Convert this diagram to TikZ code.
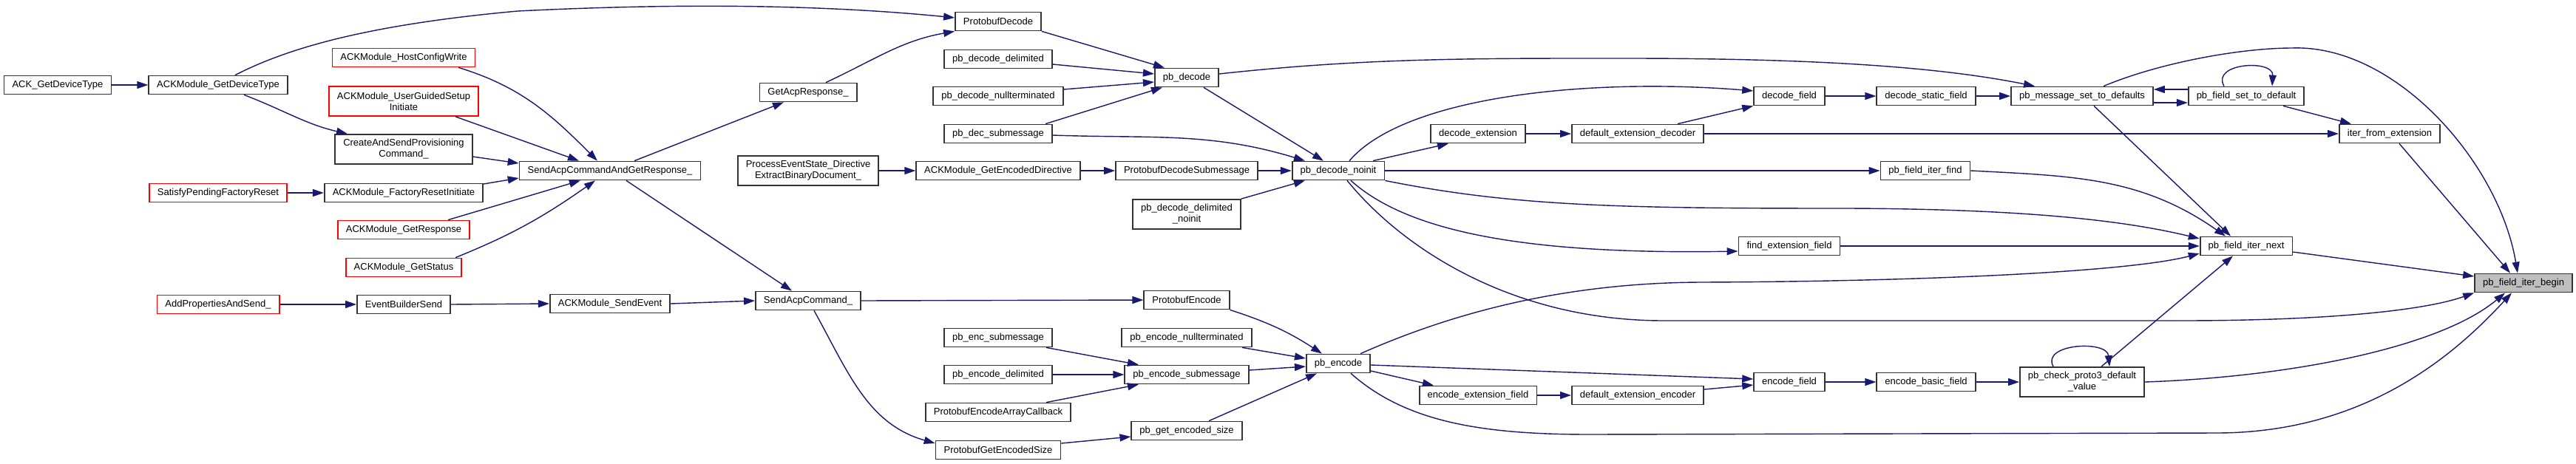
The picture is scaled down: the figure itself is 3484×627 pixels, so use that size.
\documentclass[tikz,border=0pt]{standalone}
\usepackage{fontspec}
\setmainfont{Liberation Sans}
\usetikzlibrary{arrows.meta}

\definecolor{callblue}{HTML}{191970}
\definecolor{boxgray}{HTML}{BFBFBF}

\tikzset{
  fn/.style={draw=black!80, line width=0.5pt, fill=white, inner xsep=0.11cm, inner ysep=0pt,
    minimum height=0.25cm, align=center, font=\fontsize{3.7}{4.27}\selectfont},
  fnred/.style={fn, draw=red},
  fnroot/.style={fn, fill=boxgray},
  tall/.style={minimum height=0.4cm},
  call/.style={draw=callblue, line width=0.4pt, -{Triangle[length=0.15cm,width=0.1cm]}},
}

\begin{document}
\begin{tikzpicture}[x=0.01cm, y=-0.01cm]

\useasboundingbox (0,0) rectangle (3484,627);

% callers on the left
\node[fn] (ackdev) at (78,115) {ACK\_GetDeviceType};
\node[fn] (ackmoddev) at (295,115) {ACKModule\_GetDeviceType};
\node[fnred] (satisfy) at (295,261) {SatisfyPendingFactoryReset};
\node[fnred] (addprop) at (295,412) {AddPropertiesAndSend\_};

\node[fnred] (hostcfg) at (546,78) {ACKModule\_HostConfigWrite};
\node[fnred,tall] (userguided) at (546,137) {ACKModule\_UserGuidedSetup\\Initiate};
\node[fn,tall] (createsend) at (546,202) {CreateAndSendProvisioning\\Command\_};
\node[fn] (factoryreset) at (546,261) {ACKModule\_FactoryResetInitiate};
\node[fnred] (getresp) at (546,311) {ACKModule\_GetResponse};
\node[fnred] (getstatus) at (546,362) {ACKModule\_GetStatus};
\node[fn] (eventsend) at (546,412) {EventBuilderSend};

\node[fn] (sendacpget) at (825,231) {SendAcpCommandAndGetResponse\_};
\node[fn] (sendevent) at (825,411) {ACKModule\_SendEvent};

\node[fn] (getacp) at (1093,125) {GetAcpResponse\_};
\node[fn,tall] (processevt) at (1093,231) {ProcessEventState\_Directive\\ExtractBinaryDocument\_};
\node[fn] (sendacp) at (1093,407) {SendAcpCommand\_};

% protobuf wrappers
\node[fn] (protodec) at (1350,29) {ProtobufDecode};
\node[fn] (decdelim) at (1350,80) {pb\_decode\_delimited};
\node[fn] (decnull) at (1350,130) {pb\_decode\_nullterminated};
\node[fn] (decsub) at (1350,181) {pb\_dec\_submessage};
\node[fn] (getencdir) at (1350,231) {ACKModule\_GetEncodedDirective};
\node[fn] (encsub) at (1350,457) {pb\_enc\_submessage};
\node[fn] (encdelim) at (1350,507) {pb\_encode\_delimited};
\node[fn] (encarray) at (1350,558) {ProtobufEncodeArrayCallback};
\node[fn] (getencsize) at (1350,609) {ProtobufGetEncodedSize};

\node[fn] (pbdecode) at (1605,105) {pb\_decode};
\node[fn] (protodecsub) at (1605,231) {ProtobufDecodeSubmessage};
\node[fn,tall] (decdelimnoinit) at (1605,290) {pb\_decode\_delimited\\\_noinit};
\node[fn] (protoenc) at (1605,406) {ProtobufEncode};
\node[fn] (encnull) at (1605,457) {pb\_encode\_nullterminated};
\node[fn] (encsubmsg) at (1605,507) {pb\_encode\_submessage};
\node[fn] (pbgetsize) at (1605,583) {pb\_get\_encoded\_size};

\node[fn] (decnoinit) at (1810,231) {pb\_decode\_noinit};
\node[fn] (pbencode) at (1810,492) {pb\_encode};

% field helpers
\node[fn] (decext) at (1999,181) {decode\_extension};
\node[fn] (encextfield) at (1999,535) {encode\_extension\_field};
\node[fn] (defextdec) at (2215,181) {default\_extension\_decoder};
\node[fn] (defextenc) at (2215,535) {default\_extension\_encoder};
\node[fn] (decfield) at (2420,130) {decode\_field};
\node[fn] (findext) at (2420,333) {find\_extension\_field};
\node[fn] (encfield) at (2420,517) {encode\_field};
\node[fn] (decstatic) at (2605,130) {decode\_static\_field};
\node[fn] (iterfind) at (2604,231) {pb\_field\_iter\_find};
\node[fn] (encbasic) at (2605,517) {encode\_basic\_field};
\node[fn] (msgdefaults) at (2816,130) {pb\_message\_set\_to\_defaults};
\node[fn,tall] (proto3) at (2816,517) {pb\_check\_proto3\_default\\\_value};
\node[fn] (setdefault) at (3038,130) {pb\_field\_set\_to\_default};
\node[fn] (iternext) at (3038,333) {pb\_field\_iter\_next};
\node[fn] (iterfromext) at (3232,181) {iter\_from\_extension};
\node[fnroot] (iterbegin) at (3413,383) {pb\_field\_iter\_begin};

% straight calls, east to west
\foreach \a/\b in {ackdev/ackmoddev, satisfy/factoryreset, addprop/eventsend,
    eventsend/sendevent, sendevent/sendacp, processevt/getencdir, sendacp/protoenc,
    getencdir/protodecsub, protodecsub/decnoinit, encdelim/encsubmsg, decnoinit/iterfind,
    findext/iternext, encextfield/defextenc, encfield/encbasic, encbasic/proto3,
    decext/defextdec, defextdec/iterfromext, decfield/decstatic, decstatic/msgdefaults}
  \draw[call] (\a.east) -- (\b.west);

% left part
\draw[call] ([xshift=0.23cm]ackmoddev.north) .. controls (380,70) and (480,35) .. (700,15)
  .. controls (900,5) and (1100,5) .. ([yshift=0.05cm]protodec.west);
\draw[call] ([xshift=0.35cm]ackmoddev.south) to[out=-21,in=167] ([xshift=-0.76cm]createsend.north);
\draw[call] ([xshift=0.74cm]hostcfg.south) to[out=-17,in=135] ([xshift=-0.17cm]sendacpget.north);
\draw[call] ([xshift=0.7cm]userguided.south) -- ([xshift=-0.42cm]sendacpget.north);
\draw[call] ([yshift=-0.1cm]createsend.east) -- ([yshift=0.1cm]sendacpget.west);
\draw[call] ([yshift=0.12cm]factoryreset.east) -- ([yshift=-0.1cm]sendacpget.west);
\draw[call] ([xshift=0.6cm]getresp.north) -- ([xshift=-0.4cm]sendacpget.south);
\draw[call] ([xshift=0.7cm]getstatus.north) to[out=22,in=-145] ([xshift=-0.2cm]sendacpget.south);
\draw[call] ([xshift=0.33cm]sendacpget.north) -- ([xshift=-0.33cm]getacp.south);
\draw[call] ([xshift=0.22cm]sendacpget.south) -- ([xshift=-0.22cm]sendacp.north);
\draw[call] ([xshift=0.24cm]getacp.north) to[out=25,in=-170] (protodec.south west);
\draw[call] ([xshift=0.08cm]sendacp.south) to[out=-61,in=164] ([yshift=0.09cm]getencsize.west);

% decode side
\draw[call] (protodec.south east) -- ([xshift=-0.3cm]pbdecode.north);
\draw[call] ([yshift=-0.07cm]decdelim.east) -- ([yshift=0.05cm]pbdecode.west);
\draw[call] ([yshift=0.09cm]decnull.east) -- ([yshift=-0.06cm]pbdecode.west);
\draw[call] ([xshift=0.64cm]decsub.north) -- ([xshift=-0.33cm]pbdecode.south);
\draw[call] ([yshift=-0.02cm]decsub.east) to[out=-2,in=163] ([xshift=-0.45cm]decnoinit.north);
\draw[call] (decdelimnoinit.north east) -- ([xshift=-0.45cm]decnoinit.south);
\draw[call] ([xshift=0.23cm]pbdecode.south) -- ([xshift=-0.2cm]decnoinit.north);
\draw[call] ([yshift=0.05cm]pbdecode.east) .. controls (1850,78) and (2000,79) .. (2200,79)
  .. controls (2450,79) and (2620,90) .. ([xshift=-0.64cm]msgdefaults.north);

% encode side
\draw[call] (protoenc.south east) to[out=-18,in=147] ([xshift=-0.22cm]pbencode.north);
\draw[call] ([xshift=0.75cm]encnull.south) -- ([yshift=0.07cm]pbencode.west);
\draw[call] ([xshift=0.65cm]encsub.south) -- ([xshift=-0.65cm]encsubmsg.north);
\draw[call] ([xshift=0.65cm]encarray.north) -- ([xshift=-0.65cm]encsubmsg.south);
\draw[call] ([yshift=0.06cm]encsubmsg.east) -- ([yshift=-0.04cm]pbencode.west);
\draw[call] ([yshift=0.09cm]getencsize.east) -- ([yshift=-0.08cm]pbgetsize.west);
\draw[call] ([xshift=0.3cm]pbgetsize.north) -- ([xshift=-0.29cm]pbencode.south);

% from pb_decode_noinit
\draw[call] ([xshift=0.15cm]decnoinit.north) .. controls (1900,130) and (2150,105) .. ([yshift=0.07cm]decfield.west);
\draw[call] ([xshift=0.47cm]decnoinit.north) -- ([xshift=-0.4cm]decext.south);
\draw[call] (decnoinit.south east) .. controls (2050,280) and (2200,282) .. (2500,282)
  .. controls (2750,283) and (2880,300) .. ([yshift=0.1cm]iternext.west);
\draw[call] ([xshift=0.17cm]decnoinit.south) .. controls (1900,310) and (2050,345) .. ([yshift=-0.07cm]findext.west);
\draw[call] ([xshift=0.12cm]decnoinit.south) .. controls (1900,340) and (2050,434) .. (2250,434) -- (2950,434)
  .. controls (3150,434) and (3280,420) .. (iterbegin.south west);

% from pb_encode
\draw[call] ([xshift=0.3cm]pbencode.north) .. controls (1950,430) and (2100,383) .. (2300,382)
  .. controls (2600,381) and (2880,368) .. ([yshift=-0.1cm]iternext.west);
\draw[call] ([xshift=0.17cm]pbencode.south) .. controls (1900,570) and (2000,588) .. (2150,588) -- (3000,586)
  .. controls (3200,585) and (3320,480) .. ([xshift=-0.16cm]iterbegin.south);
\draw[call] ([yshift=-0.02cm]pbencode.east) -- ([yshift=0.04cm]encfield.west);
\draw[call] ([yshift=-0.1cm]pbencode.east) -- ([xshift=-0.6cm]encextfield.north);
\draw[call] ([yshift=0.08cm]defextenc.east) -- ([yshift=-0.04cm]encfield.west);
\draw[call] ([xshift=0.54cm]defextdec.north) -- (decfield.south west);

% right part
\draw[call] ([xshift=-0.39cm]proto3.north) .. controls (2760,465) and (2850,460) .. ([xshift=0.37cm]proto3.north);
\draw[call] ([xshift=-0.3cm]setdefault.north) .. controls (2990,85) and (3075,80) .. ([xshift=0.35cm]setdefault.north);
\draw[call] ([xshift=0.26cm]proto3.north) -- ([xshift=-0.18cm]iternext.south);
\draw[call] (proto3.east) .. controls (3100,510) and (3300,470) .. ([xshift=-0.25cm]iterbegin.south);
\draw[call] ([xshift=0.13cm]iterfromext.south) -- ([xshift=-0.18cm]iterbegin.north);
\draw[call] ([yshift=-0.08cm]iternext.east) -- ([yshift=0.09cm]iterbegin.west);
\draw[call] ([xshift=0.29cm]msgdefaults.north) .. controls (2920,85) and (3030,65) .. (3100,65)
  .. controls (3240,60) and (3380,220) .. ([xshift=-0.08cm]iterbegin.north);
\draw[call] ([xshift=0.16cm]msgdefaults.south) -- ([xshift=-0.21cm]iternext.north);
\draw[call] ([yshift=-0.09cm]msgdefaults.east) -- ([yshift=-0.09cm]setdefault.west);
\draw[call] ([yshift=0.09cm]setdefault.west) -- ([yshift=0.09cm]msgdefaults.east);
\draw[call] ([xshift=0.5cm]setdefault.south) -- ([xshift=-0.52cm]iterfromext.north);
\draw[call] (iterfind.east) to[out=-3,in=145] ([xshift=-0.28cm]iternext.north);

\end{tikzpicture}
\end{document}
